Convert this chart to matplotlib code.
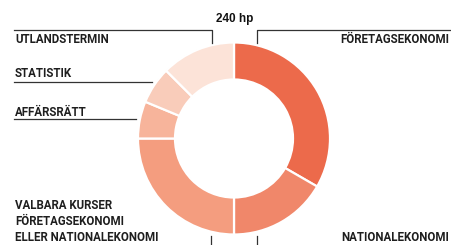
import matplotlib as mpl
import matplotlib.pyplot as plt

# data
kurser = ["FÖRETAGSEKONOMI", "NATIONALEKONOMI",
          "VALBARA KURSER\nFÖRETAGSEKONOMI\nELLER NATIONALEKONOMI",
          "AFFÄRSRÄTT", "STATISTIK", "UTLANDSTERMIN"]
hp = [80, 40, 60, 15, 15, 30]
farger = ["#EC6A4B", "#F0876A", "#F49D7F", "#F7B49B", "#F9CCBA", "#FCE3D8"]
titel = "240 hp"

W, H = 451, 245
Y = lambda y: H - y          # pixel rader uppifran -> axel

plt.rcParams['font.family'] = ['Roboto', 'DejaVu Sans']
fig = plt.figure(figsize=(W / 100, H / 100), dpi=100)
ax = fig.add_axes([0, 0, 1, 1])

ax.pie(hp, colors=farger, startangle=90, counterclock=False,
       center=(234, Y(138.5)), radius=96,
       wedgeprops=dict(width=37, edgecolor="white", linewidth=1.6))

ax.set_xlim(0, W)
ax.set_ylim(0, H)
ax.set_aspect('auto')
ax.axis('off')

txt = dict(fontsize=8.3, color="#1e1e1e", fontweight="semibold")
lc = dict(color="#333333", lw=0.9)

# titel
ax.text(235, Y(22), titel, ha="center", va="baseline", fontsize=8.5,
        fontweight="bold", color="#111111", family=["Liberation Sans", "DejaVu Sans"])

# utlandstermin (uppe vanster)
ax.plot([14, 212, 212], [Y(30), Y(30), Y(43)], **lc)
ax.text(15, Y(43), kurser[5], ha="left", va="baseline", **txt)

# foretagsekonomi (uppe hoger)
ax.plot([W, 257, 257], [Y(30), Y(30), Y(43)], **lc)
ax.text(449, Y(43), kurser[0], ha="right", va="baseline", **txt)

# statistik
ax.text(15, Y(77), kurser[4], ha="left", va="baseline", **txt)
ax.plot([14, 152], [Y(82), Y(82)], **lc)

# affarsratt
ax.text(15, Y(116), kurser[3], ha="left", va="baseline", **txt)
ax.plot([14, 136], [Y(119.5), Y(119.5)], **lc)

# valbara kurser
for i, rad in enumerate(kurser[2].split("\n")):
    ax.text(15, Y(209 + i * 16), rad, ha="left", va="baseline", **txt)
ax.plot([211, 211], [Y(236), Y(245)], **lc)

# nationalekonomi
ax.plot([257, 257], [Y(236), Y(245)], **lc)
ax.text(449, Y(241), kurser[1], ha="right", va="baseline", **txt)

plt.savefig("out.png", dpi=100)
